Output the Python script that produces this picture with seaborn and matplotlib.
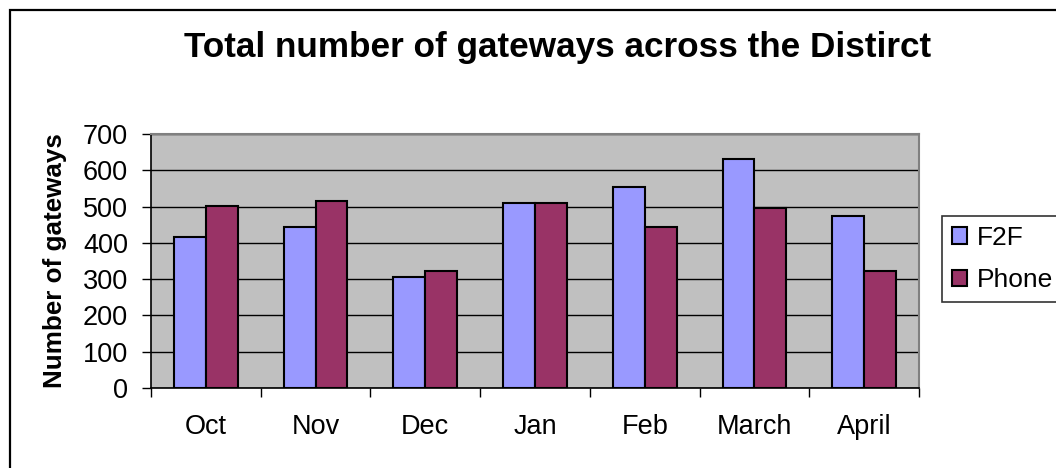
import numpy as np
import pandas as pd
import matplotlib
matplotlib.use("Agg")
import matplotlib.pyplot as plt
import matplotlib.patches as mpatches
import seaborn as sns

months = ["Oct", "Nov", "Dec", "Jan", "Feb", "March", "April"]
f2f = [415, 445, 305, 509, 555, 631, 474]
phone = [502, 515, 323, 509, 445, 497, 323]
series_names = ["F2F", "Phone"]
yticks = [0, 100, 200, 300, 400, 500, 600, 700]

df = pd.DataFrame({
    "Month": months * 2,
    "Value": f2f + phone,
    "Series": [series_names[0]] * len(months) + [series_names[1]] * len(months),
})

sns.set_theme(style="white")
plt.rcParams["font.family"] = ["Liberation Sans", "DejaVu Sans"]
plt.rcParams["text.color"] = "black"
plt.rcParams["axes.labelcolor"] = "black"
plt.rcParams["xtick.color"] = "black"
plt.rcParams["ytick.color"] = "black"

fig = plt.figure(figsize=(10.56, 4.68), dpi=100)
W, H = 1056, 468
ax = fig.add_axes([151 / W, 1 - 388 / H, (919 - 151) / W, (388 - 134) / H])
ax.set_facecolor("#C0C0C0")

sns.barplot(data=df, x="Month", y="Value", hue="Series", order=months,
            hue_order=series_names, palette=["#9999FF", "#993366"],
            width=0.58, gap=0, saturation=1, edgecolor="black", linewidth=1.5,
            ax=ax)

ax.set_xlim(-0.5, len(months) - 0.5)
ax.set_ylim(0, 700)
ax.set_yticks(yticks)
ax.yaxis.grid(True, color="black", linewidth=1.0)
ax.xaxis.grid(False)
ax.set_axisbelow(True)

ax.tick_params(axis="y", which="major", direction="out", length=6.5, width=1,
               color="black", labelcolor="black", labelsize=19.5, pad=10, left=True)
ax.tick_params(axis="x", which="major", length=0, labelsize=19.5,
               labelcolor="black", pad=19)
ax.set_xticks(np.arange(-0.5, len(months), 1.0), minor=True)
ax.tick_params(axis="x", which="minor", direction="out", length=6.5, width=1,
               color="black", bottom=True)
ax.set_xlabel("")
ax.set_ylabel("Number of gateways", fontsize=18.7, fontweight="bold",
              va="center", color="black")
ax.yaxis.set_label_coords(-0.125, 0.5)

for side in ["left", "bottom"]:
    ax.spines[side].set_color("black")
    ax.spines[side].set_linewidth(1.2)
for side in ["top", "right"]:
    ax.spines[side].set_color("#808080")
    ax.spines[side].set_linewidth(1.5)

fig.text(558 / W, 1 - 48 / H,
         "Total number of gateways across the Distirct",
         ha="center", va="center", fontsize=25.3, fontweight="bold",
         color="black")

handles, labels = ax.get_legend_handles_labels()
if ax.get_legend() is not None:
    ax.get_legend().remove()
leg = fig.legend(handles, labels, loc="upper left",
                 bbox_to_anchor=(942 / W, 1 - 216 / H),
                 fontsize=19, frameon=True, fancybox=False,
                 edgecolor="black", handlelength=0.58, handleheight=0.58,
                 handletextpad=0.38, labelspacing=0.7, borderpad=0.37,
                 borderaxespad=0)
leg.get_frame().set_linewidth(1.2)
for t in leg.get_texts():
    t.set_color("black")

border = mpatches.Rectangle((9.5 / W, -0.05), 1.1, 1 - 9.5 / H + 0.05,
                            transform=fig.transFigure, fill=False,
                            edgecolor="black", linewidth=1.6, clip_on=False)
fig.patches.append(border)

fig.savefig("out.png", dpi=100, facecolor="white")
